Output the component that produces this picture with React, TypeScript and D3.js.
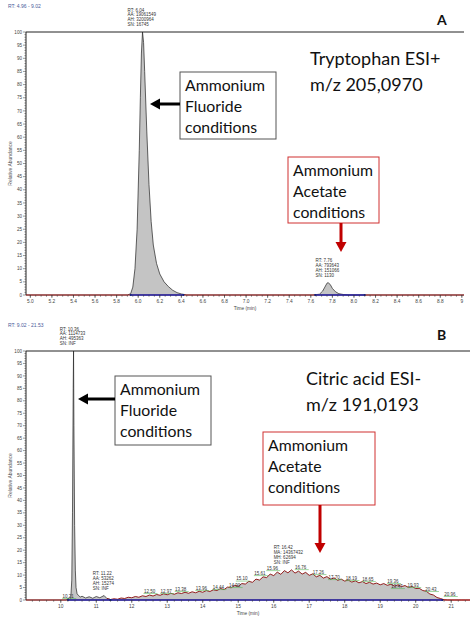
import React from 'react';
import * as d3 from 'd3';

// ---------- Panel A data (Tryptophan ESI+) ----------
const topTimes = [4.96, 5.9, 5.93, 5.95, 5.97, 5.99, 6.01, 6.02, 6.03, 6.04, 6.05, 6.06, 6.08, 6.1, 6.12, 6.14, 6.17, 6.2, 6.24, 6.28, 6.32, 6.36, 6.4, 6.45, 7.62, 7.68, 7.71, 7.73, 7.75, 7.76, 7.78, 7.8, 7.83, 7.86, 7.9, 7.95, 9.02];
const topValues = [0, 0, 0.5, 3, 10, 25, 55, 75, 92, 100, 96, 85, 62, 42, 28, 19, 12, 8, 5, 3.2, 1.8, 0.9, 0.4, 0, 0, 0.3, 1.5, 3, 4.5, 4.7, 4, 2.5, 1.2, 0.5, 0.2, 0, 0];
const topTicks = [5.0, 5.2, 5.4, 5.6, 5.8, 6.0, 6.2, 6.4, 6.6, 6.8, 7.0, 7.2, 7.4, 7.6, 7.8, 8.0, 8.2, 8.4, 8.6, 8.8, 9];
const topTickLabels = ['5.0', '5.2', '5.4', '5.6', '5.8', '6.0', '6.2', '6.4', '6.6', '6.8', '7.0', '7.2', '7.4', '7.6', '7.8', '8.0', '8.2', '8.4', '8.6', '8.8', '9'];
const topPeakRT = [6.04, 7.76];
const topPeakHeight = [100, 4.7];
const topPeakLabels = [
  ['RT: 6.04', 'AA: 19061549', 'AH: 3200964', 'SN: 16745'],
  ['RT: 7.76', 'AA: 793643', 'AH: 151066', 'SN: 1130'],
];
const topBaselines = [[5.93, 6.42], [7.64, 8.1]];

// ---------- Panel B data (Citric acid ESI-) ----------
const spikeTimes = [9.02, 10.15, 10.2, 10.21, 10.23, 10.28, 10.31, 10.33, 10.35, 10.36, 10.37, 10.39, 10.41, 10.43, 10.46, 10.5, 10.55, 10.6, 10.7, 10.8, 10.9, 11.0, 11.1, 11.22, 11.3];
const spikeValues = [0, 0, 0.5, 0.8, 0.3, 0.5, 8, 35, 85, 100, 70, 30, 12, 5, 2.5, 1.8, 1.2, 1.5, 0.8, 1.3, 0.7, 1.4, 0.9, 1.8, 0.6];
const humpStart = 11.4;
const humpStep = 0.1;
const humpValues = [
  0.2, 0.5, 0.3, 0.8, 0.6, 1.1, 0.9, 1.4, 1.1, 1.7,
  1.4, 2.0, 1.6, 2.2, 1.9, 2.5, 2.1, 2.7, 2.3, 2.9,
  2.6, 3.1, 2.7, 3.3, 2.9, 3.5, 3.1, 3.8, 3.4, 4.1,
  3.8, 4.6, 4.2, 5.2, 4.9, 5.9, 5.5, 6.6, 6.4, 7.5,
  7.1, 8.4, 8.0, 9.3, 9.0, 10.4, 9.8, 11.2, 10.3, 11.8,
  10.9, 12.1, 10.8, 11.6, 10.4, 11.1, 9.9, 10.5, 9.3, 9.9,
  8.8, 9.4, 8.3, 8.9, 7.9, 8.4, 7.6, 8.0, 7.2, 7.7,
  6.9, 7.4, 6.6, 7.1, 6.4, 6.8, 6.1, 6.6, 5.9, 6.3,
  5.6, 6.1, 5.4, 5.8, 5.0, 5.4, 4.6, 4.7, 3.8, 3.5,
  2.4, 2.0, 1.0, 0.6, 0.1, 0, 0, 0, 0, 0, 0, 0,
];
const bottomEnd = [21.53];
const bottomTicks = [10, 11, 12, 13, 14, 15, 16, 17, 18, 19, 20, 21];
const bottomPeakRT = [10.36, 11.22, 16.42];
const bottomPeakHeight = [100, 1.8, 12.1];
const bottomPeakLabels = [
  ['RT: 10.36', 'AA: 1114733', 'AH: 495363', 'SN: INF'],
  ['RT: 11.22', 'AA: 53262', 'AH: 15274', 'SN: INF'],
  ['RT: 16.42', 'MA: 14367432', 'MH: 62694', 'SN: INF'],
];
const minorRT = [10.21, 12.5, 12.97, 13.38, 13.96, 14.44, 14.9, 15.1, 15.61, 15.96, 16.76, 17.26, 17.7, 18.19, 18.65, 19.36, 19.47, 19.93, 20.43, 20.96];
const minorLabelHeight = [1.6, 3.6, 3.6, 4.4, 4.8, 5.2, 6.0, 8.6, 10.8, 12.8, 13.2, 11.2, 9.2, 8.8, 8.4, 7.6, 5.6, 6.0, 4.4, 2.4];
const bottomBaselines = [[10.2, 11.4], [11.4, 20.75]];

const yTicks = d3.range(0, 101, 5);
const FONT = "'Liberation Sans', Arial, sans-serif";
const TITLE_FONT = "Lato, 'Liberation Sans', sans-serif";

const humpTimes = humpValues.map((_, i) => +(humpStart + i * humpStep).toFixed(2)).filter((t) => t <= bottomEnd[0]);
const bottomTimes = [...spikeTimes, ...humpTimes, bottomEnd[0]];
const bottomValues = [...spikeValues, ...humpValues.slice(0, humpTimes.length), 0];

type PanelProps = {
  x: d3.ScaleLinear<number, number>;
  y: d3.ScaleLinear<number, number>;
  times: number[];
  values: number[];
  majorTicks: number[];
  majorLabels: string[];
  minorStep: number;
  peakRT: number[];
  peakHeight: number[];
  peakLabels: string[][];
  baselines: number[][];
  header: string;
  splitAt?: number;
};

function Panel(p: PanelProps) {
  const { x, y } = p;
  const [x0, x1] = x.range();
  const y0 = y(0);
  const y100 = y(100);
  const [d0, d1] = x.domain();
  const minor = d3.range(Math.ceil(d0 / p.minorStep) * p.minorStep, d1 + 1e-9, p.minorStep);
  const pts = p.times.map((t, i) => [t, p.values[i]] as [number, number]);
  const area = d3.area<[number, number]>().x((d) => x(d[0])).y0(y0).y1((d) => y(d[1]));
  const line = d3.line<[number, number]>().x((d) => x(d[0])).y((d) => y(d[1]));
  const split = p.splitAt ?? d1;
  const first = pts.filter((d) => d[0] <= split);
  const second = pts.filter((d) => d[0] >= split - 0.1);
  return (
    <g>
      <text x={8} y={y100 - 24} fontSize={5} fill="#4a5a9a" fontFamily={FONT}>{p.header}</text>
      <line x1={x0} x2={x1} y1={y100} y2={y100} stroke="#222" strokeWidth={1} />
      <line x1={x0} x2={x0} y1={y100} y2={y0} stroke="#222" strokeWidth={1} />
      {d3.range(0, 101, 1).map((v) => (
        <line key={'ym' + v} x1={x0 - (v % 5 === 0 ? 3 : 1.6)} x2={x0} y1={y(v)} y2={y(v)} stroke="#333" strokeWidth={0.5} />
      ))}
      {yTicks.map((v) => (
        <text key={'yl' + v} x={x0 - 4} y={y(v) + 1.6} fontSize={4.6} textAnchor="end" fill="#444" fontFamily={FONT}>{v}</text>
      ))}
      <text transform={`translate(12,${(y0 + y100) / 2}) rotate(-90)`} fontSize={5} textAnchor="middle" fill="#555" fontFamily={FONT}>Relative Abundance</text>
      <path d={area(pts) || ''} fill="#c4c4c4" />
      <path d={line(first) || ''} fill="none" stroke="#222" strokeWidth={0.7} />
      {p.splitAt !== undefined && <path d={line(second) || ''} fill="none" stroke="#8b0a0a" strokeWidth={0.9} />}
      <line x1={x0} x2={x1} y1={y0} y2={y0} stroke="#9a1010" strokeWidth={1} />
      {p.baselines.map((b, i) => (
        <g key={'bl' + i}>
          <line x1={x(b[0])} x2={x(b[1])} y1={y0} y2={y0} stroke="#1c2ab0" strokeWidth={1.3} />
          <circle cx={x(b[0])} cy={y0} r={1} fill="#10207a" />
          <circle cx={x(b[1])} cy={y0} r={1} fill="#10207a" />
        </g>
      ))}
      {minor.map((v, i) => (
        <line key={'xm' + i} x1={x(v)} x2={x(v)} y1={y0} y2={y0 + 1.8} stroke="#333" strokeWidth={0.5} />
      ))}
      {p.majorTicks.map((v, i) => (
        <g key={'xt' + i}>
          <line x1={x(v)} x2={x(v)} y1={y0} y2={y0 + 3} stroke="#333" strokeWidth={0.6} />
          <text x={x(v)} y={y0 + 8} fontSize={4.8} textAnchor="middle" fill="#444" fontFamily={FONT}>{p.majorLabels[i]}</text>
        </g>
      ))}
      <text x={(x0 + x1) / 2} y={y0 + 15} fontSize={4.8} textAnchor="middle" fill="#444" fontFamily={FONT}>Time (min)</text>
      {p.peakRT.map((rt, i) => {
        const lines = p.peakLabels[i];
        const maxLen = d3.max(lines, (s) => s.length) || 0;
        const left = x(rt) - maxLen * 1.25;
        const bottom = y(p.peakHeight[i]) - 6;
        return (
          <g key={'pl' + i}>
            {lines.map((s, j) => (
              <text key={j} x={left} y={bottom - (lines.length - 1 - j) * 4.8} fontSize={4.5} fill="#333" fontFamily={FONT}>{s}</text>
            ))}
          </g>
        );
      })}
    </g>
  );
}

function Arrow({ x1, y1, x2, y2, color }: { x1: number; y1: number; x2: number; y2: number; color: string }) {
  const ang = Math.atan2(y2 - y1, x2 - x1);
  const hl = 10;
  const hw = 5.5;
  const bx = x2 - hl * Math.cos(ang);
  const by = y2 - hl * Math.sin(ang);
  const px = -Math.sin(ang) * hw;
  const py = Math.cos(ang) * hw;
  return (
    <g>
      <line x1={x1} y1={y1} x2={bx} y2={by} stroke={color} strokeWidth={3} />
      <polygon points={`${x2},${y2} ${bx + px},${by + py} ${bx - px},${by - py}`} fill={color} />
    </g>
  );
}

function Box({ x, y, w, h, color, lines }: { x: number; y: number; w: number; h: number; color: string; lines: string[] }) {
  return (
    <g>
      <rect x={x} y={y} width={w} height={h} fill="white" stroke={color} strokeWidth={1} />
      {lines.map((s, i) => (
        <text key={i} x={x + 5} y={y + 19 + i * 21} fontSize={15.8} fill="#111" fontFamily={TITLE_FONT}>{s}</text>
      ))}
    </g>
  );
}

export default function App() {
  const xTop = d3.scaleLinear().domain([4.96, 9.02]).range([26, 464]);
  const yTop = d3.scaleLinear().domain([0, 100]).range([295, 32]);
  const xBot = d3.scaleLinear().domain([9.02, 21.53]).range([26, 470]);
  const yBot = d3.scaleLinear().domain([0, 100]).range([600, 351]);

  return (
    <svg width={474} height={619} style={{ position: 'absolute', left: 0, top: 0, background: 'white' }}>
      <rect width={474} height={619} fill="white" />
      <Panel
        x={xTop} y={yTop} times={topTimes} values={topValues}
        majorTicks={topTicks} majorLabels={topTickLabels} minorStep={0.05}
        peakRT={topPeakRT} peakHeight={topPeakHeight} peakLabels={topPeakLabels}
        baselines={topBaselines} header="RT: 4.96 - 9.02"
      />
      <Panel
        x={xBot} y={yBot} times={bottomTimes} values={bottomValues}
        majorTicks={bottomTicks} majorLabels={bottomTicks.map(String)} minorStep={0.2}
        peakRT={bottomPeakRT} peakHeight={bottomPeakHeight} peakLabels={bottomPeakLabels}
        baselines={bottomBaselines} header="RT: 9.02 - 21.53" splitAt={11.4}
      />
      {minorRT.map((rt, i) => {
        const yy = yBot(minorLabelHeight[i]);
        return (
          <g key={'mr' + i}>
            <line x1={xBot(rt) - 6} x2={xBot(rt) + 8} y1={yy + 2.5} y2={yy + 2.5} stroke="#5cb85c" strokeWidth={0.6} />
            <text x={xBot(rt)} y={yy + 1.5} fontSize={4.5} textAnchor="middle" fill="#333" fontFamily={FONT}>{rt.toFixed(2)}</text>
          </g>
        );
      })}

      <text x={437} y={25} fontSize={14} fontWeight="bold" fill="#111" fontFamily={TITLE_FONT}>A</text>
      <text x={310} y={65} fontSize={18} fill="#111" fontFamily={TITLE_FONT}>Tryptophan ESI+</text>
      <text x={310} y={91} fontSize={18} fill="#111" fontFamily={TITLE_FONT}>m/z 205,0970</text>
      <Box x={180} y={72} w={96} h={67} color="#555" lines={['Ammonium', 'Fluoride', 'conditions']} />
      <Arrow x1={180} y1={104} x2={150} y2={104} color="#000" />
      <Box x={288} y={157} w={91} h={66} color="#d03030" lines={['Ammonium', 'Acetate', 'conditions']} />
      <Arrow x1={341} y1={223} x2={341} y2={252} color="#c00000" />

      <text x={437} y={340} fontSize={14} fontWeight="bold" fill="#111" fontFamily={TITLE_FONT}>B</text>
      <text x={306} y={385} fontSize={18} fill="#111" fontFamily={TITLE_FONT}>Citric acid ESI-</text>
      <text x={306} y={411} fontSize={18} fill="#111" fontFamily={TITLE_FONT}>m/z 191,0193</text>
      <Box x={115} y={376} w={96} h={69} color="#555" lines={['Ammonium', 'Fluoride', 'conditions']} />
      <Arrow x1={115} y1={399} x2={78} y2={399} color="#000" />
      <Box x={263} y={432} w={112} h={73} color="#d03030" lines={['Ammonium', 'Acetate', 'conditions']} />
      <Arrow x1={320} y1={505} x2={320} y2={553} color="#c00000" />
    </svg>
  );
}
